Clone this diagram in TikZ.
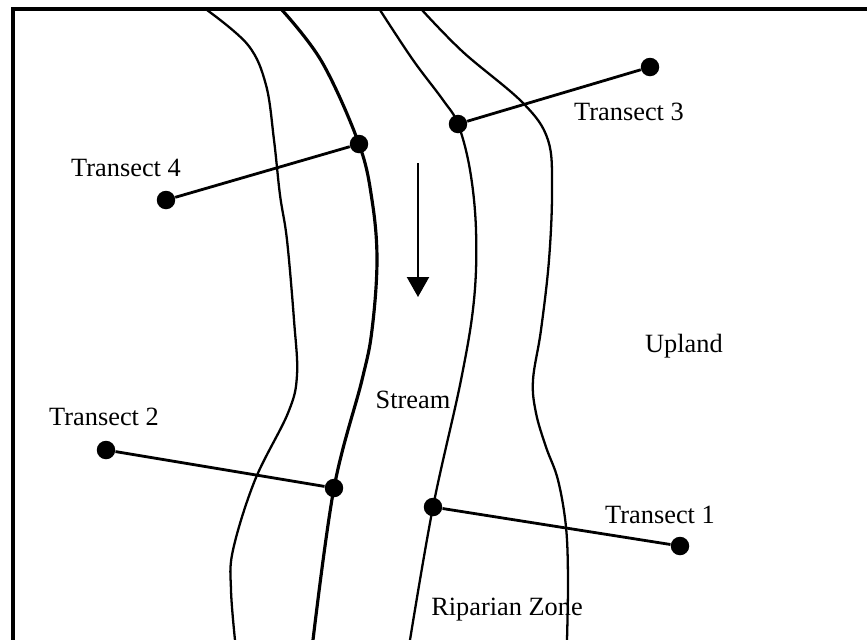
\documentclass[tikz,border=0pt]{standalone}
\usepackage{fontspec}
\setmainfont{Liberation Serif}
\usetikzlibrary{arrows.meta}

\tikzset{
  bank/.style={line width=1.3pt, smooth, tension=0.6},
  dot/.style={circle, fill=black, inner sep=0pt, minimum size=0.37cm},
  transect/.style={line width=1.6pt},
  lbl/.style={font=\fontsize{15}{18}\selectfont, inner sep=1pt}
}

\begin{document}
\begin{tikzpicture}[x=0.02cm, y=-0.02cm]
    \useasboundingbox (0,0) rectangle (867,640);
    % frame
    \draw[line width=2pt] (13,640)--(13,9)--(867,9);
    % riparian and stream banks
    \draw[bank] plot coordinates {(207,10) (248,45) (266,85) (274,140) (280,195) (287,240) (294,320) (297,375) (288,413) (255,480) (233,550) (231,590) (235,640)};
    \draw[bank, line width=1.8pt] plot coordinates {(282,10) (322,62) (359,144) (372,200) (377,260) (372,330) (362,380) (334,488) (313,640)};
    \draw[bank] plot coordinates {(380,10) (413,60) (443,100) (458,124) (470,170) (476,230) (474,300) (461,380) (433,507) (410,640)};
    \draw[bank] plot coordinates {(422,10) (463,52) (523,103) (548,140) (552,190) (549,260) (541,330) (533,380) (536,413) (546,447) (558,480) (566,527) (568,580) (567,640)};
    % flow direction
    \coordinate (flowtop) at (418,163);
    \coordinate (flowbot) at (418,297);
    \draw[line width=1.3pt, -{Triangle[width=0.44cm, length=0.4cm]}] (flowtop) -- (flowbot);
    % transects
    \node[dot] (t4l) at (166,200) {};
    \node[dot] (t4r) at (359,144) {};
    \node[dot] (t3l) at (458,124) {};
    \node[dot] (t3r) at (650,67) {};
    \node[dot] (t2l) at (106,450) {};
    \node[dot] (t2r) at (334,488) {};
    \node[dot] (t1l) at (433,507) {};
    \node[dot] (t1r) at (680,546) {};
    \draw[transect] (t4l) -- (t4r);
    \draw[transect] (t3l) -- (t3r);
    \draw[transect] (t2l) -- (t2r);
    \draw[transect] (t1l) -- (t1r);
    % labels
    \node[lbl] (lab4) at (126,168) {Transect 4};
    \node[lbl] (lab3) at (629,112) {Transect 3};
    \node[lbl] (lab2) at (104,417) {Transect 2};
    \node[lbl] (lab1) at (660,515) {Transect 1};
    \node[lbl] (upland) at (684,346) {Upland};
    \node[lbl] (stream) at (413,400) {Stream};
    \node[lbl] (riparian) at (507,610) {Riparian Zone};
\end{tikzpicture}
\end{document}
